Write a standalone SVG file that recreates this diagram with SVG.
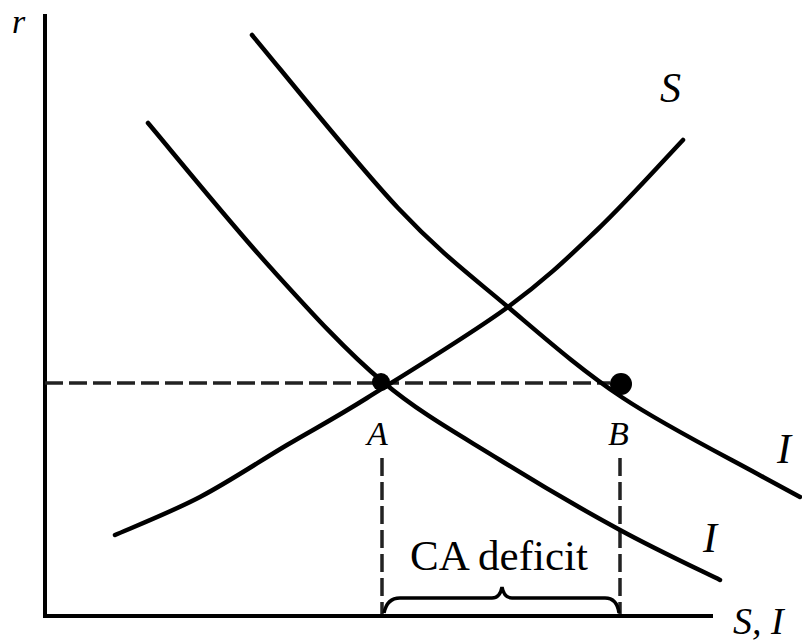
<svg xmlns="http://www.w3.org/2000/svg" width="802" height="644" viewBox="0 0 802 644">
<style>
.curve{fill:none;stroke:#000;stroke-width:4.5;stroke-linecap:round}
.axis{fill:none;stroke:#000;stroke-width:4}
.dash{fill:none;stroke:#222;stroke-width:3.5;stroke-dasharray:18 6}
.brace{fill:none;stroke:#000;stroke-width:3.5}
.lbl{font-family:"Liberation Serif","Times New Roman",serif;font-style:italic;fill:#000}
.txt{font-family:"Liberation Serif","Times New Roman",serif;fill:#000}
</style>
<rect width="802" height="644" fill="#fff"/>
<g id="axes">
<path class="axis" d="M45,14 L45,616 L713,616"/>
<text class="lbl" x="12" y="33" font-size="34">r</text>
<text class="lbl" x="733" y="634" font-size="38">S, I</text>
</g>
<g id="connectors">
<path class="dash" d="M45,383 L610,383"/>
<path class="dash" d="M382,458 L382,614"/>
<path class="dash" d="M620,458 L620,614"/>
<path class="brace" d="M384,613 Q387,598 400,598 L492,598 Q500,598 502,587 Q504,598 512,598 L605,598 Q617,598 619,613"/>
</g>
<g id="curve-I1">
<path class="curve" d="M148,123 C168.3,147 230.8,223.8 270,267 C309.2,310.2 344.7,349.8 383,382 C421.3,414.2 460.5,435.3 500,460 C539.5,484.7 583.3,510 620,530 C656.7,550 703.3,571.7 720,580"/>
<text class="lbl" x="703" y="552" font-size="42">I</text>
</g>
<g id="curve-I2">
<path class="curve" d="M252,35 C276.3,63.8 355.3,162.7 398,208 C440.7,253.3 470.5,275.3 508,307 C545.5,338.7 580.5,369.7 623,398 C665.5,426.3 733.5,460.5 763,477 L800,497"/>
<text class="lbl" x="777" y="463" font-size="42">I</text>
</g>
<g id="curve-S">
<path class="curve" d="M115,535 C129.2,528.7 171.3,512 200,497 C228.7,482 259.2,461.5 287,445 C314.8,428.5 330.2,421 367,398 C403.8,375 469.7,335 508,307 C546.3,279 567.8,257.8 597,230 C626.2,202.2 668.7,155 683,140"/>
<text class="lbl" x="660" y="102" font-size="42">S</text>
</g>
<g id="point-A">
<circle cx="381" cy="382" r="9" fill="#000"/>
<text class="lbl" x="367" y="445" font-size="34">A</text>
</g>
<g id="point-B">
<circle cx="621" cy="384" r="11" fill="#000"/>
<text class="lbl" x="608" y="445" font-size="34">B</text>
</g>
<g id="label-ca">
<text class="txt" x="410" y="570" font-size="43">CA deficit</text>
</g>
</svg>
